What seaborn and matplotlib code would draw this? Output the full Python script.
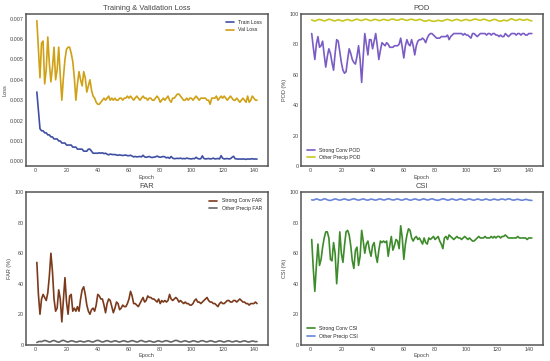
import numpy as np
import pandas as pd
import matplotlib
matplotlib.use('Agg')
import matplotlib.pyplot as plt
import seaborn as sns

# Epochs
epochs = list(range(1, 143))

# Loss curves
train_loss = [
    0.0034, 0.0025, 0.0016, 0.0015, 0.0015, 0.0014, 0.0014, 0.0013, 0.0013, 0.0012,
    0.0012, 0.0011, 0.0011, 0.0011, 0.0010, 0.0010, 0.0009, 0.0009, 0.0009, 0.0008,
    0.0008, 0.0008, 0.0008, 0.0007, 0.0007, 0.0007, 0.0006, 0.0006, 0.0006, 0.0006,
    0.0005, 0.0005, 0.0005, 0.0006, 0.0006, 0.0005, 0.0004, 0.0004, 0.0004, 0.0004,
    0.00042, 0.00040, 0.00042, 0.00038, 0.00040, 0.00035, 0.00032, 0.00036, 0.00034, 0.00033,
    0.00034, 0.00031, 0.00030, 0.00032, 0.00030, 0.00029, 0.00030, 0.00031, 0.00028, 0.00028,
    0.00030, 0.00026, 0.00022, 0.00024, 0.00022, 0.00023, 0.00024, 0.00022, 0.00030, 0.00022,
    0.00020, 0.00022, 0.00024, 0.00020, 0.00019, 0.00021, 0.00022, 0.00026, 0.00022, 0.00020,
    0.00022, 0.00024, 0.00022, 0.00017, 0.00020, 0.00015, 0.00024, 0.00016, 0.00013, 0.00014,
    0.00015, 0.00014, 0.00016, 0.00013, 0.00014, 0.00013, 0.00016, 0.00014, 0.00013, 0.00012,
    0.00014, 0.00013, 0.00020, 0.00014, 0.00012, 0.00013, 0.00027, 0.00014, 0.00012, 0.00013,
    0.00014, 0.00012, 0.00013, 0.00016, 0.00012, 0.00013, 0.00014, 0.00012, 0.00028, 0.00015,
    0.00012, 0.00013, 0.00014, 0.00012, 0.00013, 0.00020, 0.00025, 0.00013, 0.00012, 0.00011,
    0.00012, 0.00011, 0.00012, 0.00011, 0.00010, 0.00012, 0.00011, 0.00012, 0.00013, 0.00011,
    0.00012, 0.00011,
]
val_loss = [
    0.0069, 0.0055, 0.0041, 0.0058, 0.0059, 0.0038, 0.0045, 0.0061, 0.0048, 0.0039,
    0.0046, 0.0056, 0.0040, 0.0045, 0.0056, 0.0042, 0.0030, 0.0041, 0.0050, 0.0055,
    0.0056, 0.0056, 0.0053, 0.0049, 0.0041, 0.0030, 0.0038, 0.0044, 0.0040, 0.0037,
    0.0044, 0.0041, 0.0034, 0.0037, 0.0040, 0.0035, 0.0032, 0.0031, 0.0029, 0.0028,
    0.0028, 0.0029, 0.0030, 0.0031, 0.0030, 0.0031, 0.0032, 0.0030, 0.0031, 0.0030,
    0.0031, 0.0030, 0.0030, 0.0031, 0.0031, 0.0030, 0.0031, 0.0031, 0.0032, 0.0031,
    0.0032, 0.0031, 0.0030, 0.0031, 0.0032, 0.0031, 0.0030, 0.0031, 0.0032, 0.0031,
    0.0031, 0.0030, 0.0031, 0.0031, 0.0030, 0.0030, 0.0031, 0.0032, 0.0031, 0.0029,
    0.0030, 0.0031, 0.0030, 0.0031, 0.0032, 0.0030, 0.0029, 0.0031, 0.0031, 0.0032,
    0.0033, 0.0033, 0.0032, 0.0031, 0.0030, 0.0030, 0.0031, 0.0030, 0.0031, 0.0031,
    0.0030, 0.0031, 0.0032, 0.0031, 0.0030, 0.0031, 0.0031, 0.0031, 0.0031, 0.0030,
    0.0030, 0.0028, 0.0031, 0.0031, 0.0031, 0.0032, 0.0030, 0.0031, 0.0032, 0.0031,
    0.0032, 0.0031, 0.0030, 0.0031, 0.0032, 0.0031, 0.0030, 0.0030, 0.0031, 0.0030,
    0.0029, 0.0030, 0.0031, 0.0030, 0.0029, 0.0032, 0.0029, 0.0030, 0.0032, 0.0031,
    0.0030, 0.0030,
]

# POD (%)
pod_strong = [
    87, 78, 70, 80, 85, 78, 79, 82, 73, 65,
    72, 77, 74, 68, 63, 74, 83, 82, 75, 68,
    63, 61, 62, 70, 77, 74, 70, 68, 67, 72,
    79, 70, 55, 72, 87, 80, 73, 83, 83, 77,
    82, 87, 79, 70, 76, 81, 80, 79, 81, 80,
    78, 78, 78, 79, 79, 79, 80, 84, 78, 71,
    79, 83, 80, 79, 83, 79, 73, 79, 82, 83,
    83, 84, 83, 81, 84, 86, 87, 87, 86, 85,
    84, 84, 84, 85, 85, 85, 85, 86, 83, 85,
    86, 87, 87, 87, 87, 87, 87, 86, 87, 86,
    86, 85, 84, 87, 87, 86, 85, 86, 87, 87,
    87, 87, 86, 87, 87, 86, 87, 87, 86, 86,
    85, 86, 85, 85, 87, 86, 85, 86, 87, 87,
    87, 86, 87, 87, 86, 87, 87, 86, 86, 87,
    87, 87,
]
pod_other = [
    96.0, 95.5, 95.2, 95.6, 96.0, 96.3, 96.0, 95.6, 95.3, 95.5,
    96.0, 96.4, 96.2, 95.8, 95.4, 95.3, 95.7, 96.1, 95.8, 95.4,
    95.2, 95.6, 96.0, 96.2, 95.9, 95.5, 95.4, 95.8, 96.2, 96.4,
    96.1, 95.7, 95.5, 95.9, 96.3, 96.4, 96.0, 95.6, 95.5, 95.8,
    96.2, 96.3, 95.9, 95.5, 95.6, 96.0, 96.3, 96.1, 95.7, 95.6,
    96.0, 96.4, 96.5, 96.2, 95.8, 95.7, 96.0, 96.4, 96.5, 96.2,
    95.8, 95.6, 95.9, 96.3, 96.4, 96.1, 95.7, 95.6, 96.0, 96.3,
    96.1, 95.6, 95.2, 95.1, 95.4, 95.8, 95.6, 95.2, 95.0, 95.1,
    95.4, 95.7, 95.5, 95.2, 95.3, 95.7, 96.1, 96.3, 96.0, 95.6,
    95.4, 95.7, 96.1, 96.3, 96.0, 95.6, 95.4, 95.7, 96.1, 96.2,
    95.9, 95.5, 95.6, 96.0, 96.4, 96.5, 96.2, 95.8, 95.7, 96.0,
    96.4, 96.3, 95.9, 95.5, 95.3, 95.6, 96.0, 96.3, 96.1, 95.6,
    95.2, 95.1, 95.4, 95.8, 95.6, 95.3, 95.7, 96.4, 96.7, 96.3,
    95.8, 95.6, 96.0, 96.4, 96.2, 95.8, 95.7, 96.1, 96.3, 95.9,
    95.5, 95.3,
]

# FAR (%)
far_strong = [
    54, 33, 20, 30, 33, 31, 29, 34, 45, 60,
    48, 30, 22, 24, 36, 30, 15, 30, 44, 28,
    20, 32, 33, 22, 24, 22, 25, 22, 30, 36,
    38, 33, 26, 22, 20, 23, 24, 22, 26, 33,
    32, 30, 30, 26, 21, 27, 30, 29, 25, 21,
    24, 28, 27, 23, 24, 26, 25, 25, 27, 30,
    35, 32, 27, 27, 26, 25, 27, 29, 31, 28,
    29, 32, 31, 31, 30, 30, 29, 28, 30, 27,
    29, 28, 29, 28, 29, 33, 30, 29, 30, 31,
    30, 28, 29, 28, 27, 28, 27, 27, 26, 26,
    27, 29, 30, 28, 28, 27, 28, 29, 30, 31,
    29, 28, 28, 27, 27, 26, 25, 27, 28, 27,
    27, 28, 29, 29, 28, 28, 29, 29, 28, 29,
    30, 29, 28, 28, 27, 27, 26, 27, 27, 27,
    28, 27,
]
far_other = [
    1.5, 2.0, 2.2, 2.0, 2.5, 2.8, 2.6, 2.2, 1.8, 2.0,
    2.6, 2.8, 2.4, 1.9, 1.7, 2.1, 2.7, 2.9, 2.5, 2.0,
    1.8, 2.2, 2.6, 2.5, 2.1, 1.8, 1.9, 2.3, 2.4, 2.1,
    1.8, 2.0, 2.4, 2.6, 2.3, 1.9, 1.8, 2.2, 2.7, 2.9,
    2.6, 2.1, 1.8, 2.0, 2.5, 2.7, 2.4, 2.0, 1.9, 2.3,
    2.6, 2.4, 2.0, 1.8, 2.1, 2.5, 2.6, 2.2, 1.9, 2.0,
    2.4, 2.7, 2.5, 2.1, 1.8, 2.0, 2.6, 2.8, 2.4, 2.0,
    1.9, 2.2, 2.5, 2.3, 1.9, 1.7, 2.0, 2.4, 2.6, 2.2,
    1.9, 2.1, 2.5, 2.7, 2.4, 2.0, 1.8, 2.1, 2.6, 2.9,
    2.7, 2.2, 1.9, 2.0, 2.4, 2.6, 2.3, 1.9, 1.8, 2.2,
    2.6, 2.5, 2.1, 1.8, 2.0, 2.5, 2.7, 2.4, 2.0, 1.9,
    2.2, 2.6, 2.5, 2.1, 1.8, 1.9, 2.3, 2.6, 2.4, 2.0,
    1.8, 2.1, 2.5, 2.6, 2.2, 1.9, 2.0, 2.4, 2.5, 2.1,
    1.8, 2.0, 2.4, 2.6, 2.3, 1.9, 1.8, 2.2, 2.5, 2.3,
    2.0, 2.1,
]

# CSI (%)
csi_strong = [
    69, 50, 35, 52, 66, 52, 56, 64, 70, 74,
    74, 70, 56, 55, 67, 60, 40, 55, 74, 60,
    54, 65, 74, 75, 72, 65, 55, 50, 62, 64,
    52, 58, 75, 68, 60, 66, 68, 62, 58, 65,
    67, 59, 54, 62, 68, 67, 68, 67, 68, 58,
    65, 71, 62, 65, 69, 68, 63, 78, 70, 56,
    66, 72, 76, 75, 70, 68, 70, 71, 69, 70,
    68, 66, 70, 67, 66, 70, 69, 70, 71, 69,
    70, 71, 68, 66, 63, 70, 71, 69, 72, 71,
    70, 69, 70, 71, 70, 70, 69, 70, 71, 70,
    69, 70, 69, 68, 68, 69, 70, 71, 70, 70,
    70, 71, 70, 70, 70, 71, 70, 71, 70, 71,
    71, 70, 71, 71, 72, 71, 70, 70, 70, 70,
    70, 70, 71, 70, 70, 70, 70, 70, 69, 70,
    70, 70,
]
csi_other = [
    95.0, 94.8, 95.2, 95.6, 95.3, 94.9, 94.8, 95.2, 95.7, 95.5,
    95.0, 94.7, 94.6, 94.9, 95.3, 95.6, 95.4, 95.0, 94.8, 95.0,
    95.4, 95.6, 95.3, 94.9, 94.8, 95.1, 95.5, 95.7, 95.4, 95.0,
    94.8, 95.0, 95.4, 95.6, 95.3, 94.9, 94.8, 95.1, 95.5, 95.3,
    95.0, 94.8, 95.1, 95.5, 95.6, 95.2, 94.9, 95.0, 95.4, 95.7,
    95.5, 95.1, 94.9, 95.0, 95.4, 95.6, 95.3, 94.9, 94.8, 95.2,
    95.6, 95.5, 95.1, 94.8, 94.9, 95.3, 95.6, 95.4, 95.0, 94.8,
    95.1, 95.5, 95.6, 95.2, 94.9, 95.0, 95.4, 95.7, 95.4, 95.0,
    94.8, 94.7, 95.0, 95.4, 95.7, 95.5, 95.1, 94.8, 94.9, 95.3,
    95.6, 95.3, 94.9, 94.8, 95.2, 95.6, 95.5, 95.1, 94.8, 95.0,
    95.4, 95.6, 95.3, 94.9, 94.8, 95.1, 95.5, 95.4, 95.0, 94.8,
    95.0, 95.4, 95.5, 95.1, 94.8, 94.9, 95.3, 95.5, 95.2, 94.9,
    95.0, 95.4, 95.6, 95.3, 95.0, 95.3, 95.7, 95.5, 95.1, 94.8,
    94.9, 95.2, 95.4, 95.1, 94.8, 94.7, 95.0, 95.3, 95.1, 94.8,
    94.7, 94.6,
]

sns.set_style('white')
plt.rcParams['font.family'] = ['Liberation Sans', 'DejaVu Sans']
plt.rcParams['axes.edgecolor'] = '#555555'
plt.rcParams['axes.linewidth'] = 1.1

fig, axes = plt.subplots(2, 2, figsize=(5.5, 3.61), dpi=100)
fig.subplots_adjust(left=0.047, right=0.987, top=0.962, bottom=0.045,
                    wspace=0.135, hspace=0.17)

panels = [
    (axes[0, 0], 'Training & Validation Loss', 'Loss',
     [(train_loss, 'Train Loss', '#3f4fa3'), (val_loss, 'Val Loss', '#d0a015')],
     'upper right', None),
    (axes[0, 1], 'POD', 'POD (%)',
     [(pod_strong, 'Strong Conv POD', '#7a5cc4'), (pod_other, 'Other Precip POD', '#c8c820')],
     'lower left', (0, 100)),
    (axes[1, 0], 'FAR', 'FAR (%)',
     [(far_strong, 'Strong Conv FAR', '#7b3a1c'), (far_other, 'Other Precip FAR', '#666666')],
     'upper right', (0, 100)),
    (axes[1, 1], 'CSI', 'CSI (%)',
     [(csi_strong, 'Strong Conv CSI', '#3d8b2a'), (csi_other, 'Other Precip CSI', '#6a85d8')],
     'lower left', (0, 100)),
]

for ax, title, ylabel, series, loc, ylim in panels:
    for vals, lab, col in series:
        sns.lineplot(x=epochs, y=vals, ax=ax, color=col, label=lab, linewidth=1.2)
    ax.set_title(title, fontsize=5.4, pad=3, color='#444444')
    ax.set_xlabel('Epoch', fontsize=4, labelpad=1, color='#444444')
    ax.set_ylabel(ylabel, fontsize=4, labelpad=1.5, color='#444444')
    ax.set_xticks([0, 20, 40, 60, 80, 100, 120, 140])
    ax.tick_params(labelsize=3.9, pad=1.5, length=0, colors='#444444')
    if ylim is not None:
        ax.set_ylim(*ylim)
    ax.legend(loc=loc, fontsize=3.7, frameon=False, handlelength=1.6,
              borderaxespad=0.8, labelspacing=0.5)

axes[0, 0].set_yticks([0.000, 0.001, 0.002, 0.003, 0.004, 0.005, 0.006, 0.007])
axes[0, 0].set_yticklabels(['0.000', '0.001', '0.002', '0.003', '0.004', '0.005', '0.006', '0.007'])

fig.savefig('out.png', dpi=100)
